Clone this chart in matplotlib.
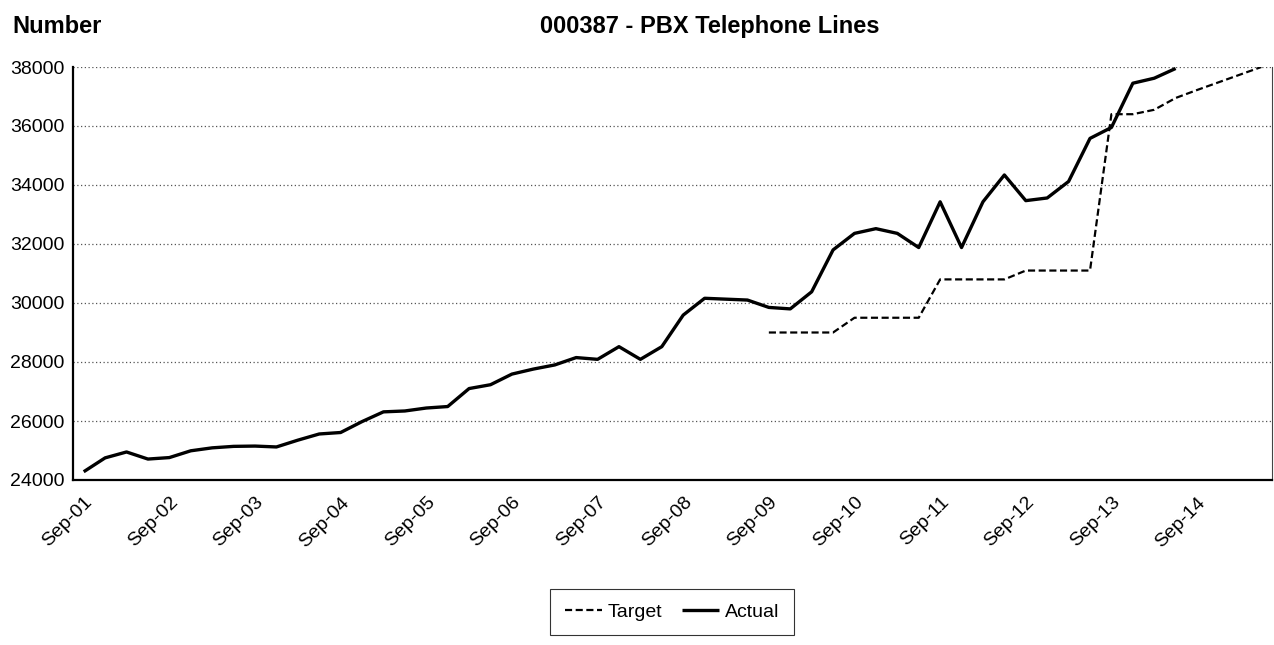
import numpy as np
import matplotlib
matplotlib.use('Agg')
import matplotlib.pyplot as plt

plt.rcParams['font.family'] = ['Liberation Sans', 'DejaVu Sans']

### Data (quarterly, Sep-01 to Jun-15)
months = ['Sep', 'Dec', 'Mar', 'Jun']
quarters = []
for yr in range(1, 16):
    for m in months:
        quarters.append(f'{m}-{yr:02d}')
quarters = quarters[:56]

actual = [24280, 24750, 24950, 24710, 24760, 24990, 25090, 25140, 25150, 25120,
          25350, 25560, 25610, 25980, 26310, 26340, 26440, 26490, 27100, 27230,
          27590, 27760, 27900, 28150, 28090, 28520, 28090, 28520, 29590, 30160,
          30130, 30100, 29850, 29800, 30380, 31800, 32360, 32520, 32360, 31880,
          33430, 31880, 33430, 34340, 33470, 33560, 34120, 35580, 35950, 37450,
          37620, 37950]

target = [np.nan] * 32 + [29000, 29000, 29000, 29000, 29500, 29500, 29500, 29500,
                          30800, 30800, 30800, 30800, 31100, 31100, 31100, 31100,
                          36400, 36400, 36550, 36950, 37220, 37480, 37740, 38000]

tick_labels = ['Sep-01', 'Sep-02', 'Sep-03', 'Sep-04', 'Sep-05', 'Sep-06', 'Sep-07',
               'Sep-08', 'Sep-09', 'Sep-10', 'Sep-11', 'Sep-12', 'Sep-13', 'Sep-14']

### Plot
fig = plt.figure(figsize=(12.74, 6.45), dpi=100)
ax = fig.add_axes([73/1274, 1 - 480/645, (1272 - 73)/1274, (480 - 67)/645])

x_t = np.arange(len(target))
x_a = np.arange(len(actual))
ax.plot(x_t, target, color='black', linewidth=1.6, linestyle=(0, (3.2, 1.6)), label='Target')
ax.plot(x_a, actual, color='black', linewidth=2.4, label='Actual', solid_capstyle='butt')

ax.set_xlim(-0.5, len(quarters) - 0.5)
ax.set_ylim(24000, 38000)
ax.set_yticks(np.arange(24000, 38001, 2000))
ax.set_xticks(np.arange(0, len(quarters), 4))
ax.set_xticklabels(tick_labels, rotation=45, ha='right', va='top', rotation_mode='anchor')
ax.tick_params(axis='both', length=0, labelsize=14, pad=6)
ax.tick_params(axis='x', pad=10)
ax.yaxis.grid(True, linestyle=(0, (1, 2)), color='#555555', linewidth=0.9)
ax.set_axisbelow(True)
for side in ['left', 'bottom']:
    ax.spines[side].set_linewidth(1.6)
ax.spines['top'].set_visible(False)
ax.spines['right'].set_linewidth(0.8)
ax.spines['right'].set_color('#444444')

fig.text(12/1274, 1 - 33/645, 'Number', fontsize=17, fontweight='bold', va='baseline', ha='left')
fig.text(710/1274, 1 - 33/645, '000387 - PBX Telephone Lines', fontsize=17,
         fontweight='bold', va='baseline', ha='center')

leg = fig.legend(loc='center', bbox_to_anchor=(672/1274, 1 - 612/645), ncol=2,
                 fontsize=14, frameon=True, fancybox=False, edgecolor='black',
                 handlelength=1.9, columnspacing=1.0, handletextpad=0.3,
                 borderpad=0.75, borderaxespad=0)
leg.get_frame().set_linewidth(0.8)

fig.savefig('out.png', dpi=100)
